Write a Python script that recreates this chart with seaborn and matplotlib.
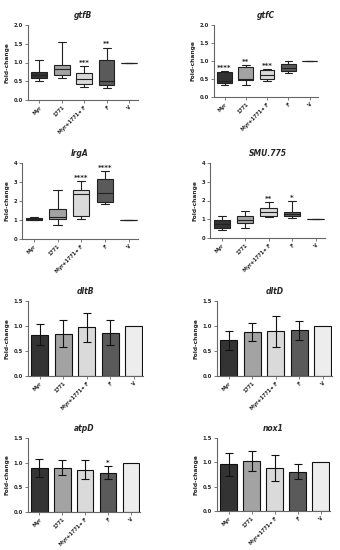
import matplotlib
matplotlib.use("Agg")
import matplotlib.pyplot as plt
import seaborn as sns
import pandas as pd

sns.set_style("white")
plt.rcParams['font.family'] = ['DejaVu Sans']

categories = ["Myr", "1771", "Myr+1771+ F", "F", "V"]
colors = ["#333333", "#a3a3a3", "#dadada", "#5a5a5a", "#ededed"]

# box-plot five-number summaries per group: [min, q1, median, q3, max]
gtfB = [[0.50, 0.60, 0.67, 0.74, 1.07],
        [0.60, 0.67, 0.82, 0.93, 1.55],
        [0.35, 0.42, 0.55, 0.73, 0.90],
        [0.32, 0.40, 0.50, 1.08, 1.40],
        [1.0, 1.0, 1.0, 1.0, 1.0]]
gtfB_sig = ["", "", "***", "**", ""]

gtfC = [[0.33, 0.38, 0.45, 0.70, 0.73],
        [0.33, 0.48, 0.50, 0.83, 0.90],
        [0.45, 0.50, 0.62, 0.75, 0.78],
        [0.68, 0.72, 0.80, 0.92, 1.00],
        [1.0, 1.0, 1.0, 1.0, 1.0]]
gtfC_sig = ["****", "**", "***", "", ""]

lrgA = [[0.98, 1.00, 1.05, 1.12, 1.18],
        [0.75, 1.05, 1.15, 1.58, 2.60],
        [1.05, 1.20, 2.35, 2.60, 3.05],
        [1.85, 1.97, 2.40, 3.18, 3.60],
        [1.0, 1.0, 1.0, 1.0, 1.0]]
lrgA_sig = ["", "", "****", "****", ""]

smu775 = [[0.45, 0.52, 0.75, 0.95, 1.20],
          [0.55, 0.80, 0.98, 1.20, 1.45],
          [1.10, 1.15, 1.40, 1.60, 1.90],
          [1.05, 1.15, 1.30, 1.40, 2.00],
          [1.0, 1.0, 1.0, 1.0, 1.0]]
smu775_sig = ["", "", "**", "*", ""]

# bar plots: mean and SD
dltB_mean = [0.83, 0.85, 0.98, 0.87, 1.00]
dltB_sd = [0.21, 0.27, 0.29, 0.25, 0.0]
dltB_sig = ["", "", "", "", ""]

dltD_mean = [0.72, 0.89, 0.90, 0.92, 1.00]
dltD_sd = [0.19, 0.18, 0.31, 0.19, 0.0]
dltD_sig = ["", "", "", "", ""]

atpD_mean = [0.89, 0.90, 0.86, 0.80, 1.00]
atpD_sd = [0.18, 0.15, 0.19, 0.14, 0.0]
atpD_sig = ["", "", "", "*", ""]

nox1_mean = [0.96, 1.03, 0.89, 0.81, 1.00]
nox1_sd = [0.24, 0.20, 0.27, 0.16, 0.0]
nox1_sig = ["", "", "", "", ""]

W, H = 340, 550
fig = plt.figure(figsize=(W / 100, H / 100), dpi=100)
fig.patch.set_facecolor("white")


def make_ax(l, t, r, b):
    return fig.add_axes([l / W, 1 - b / H, (r - l) / W, (b - t) / H])


def style(ax, title, ylim, yticks, fmt):
    ax.set_xlim(-0.5, 4.4)
    ax.set_ylim(*ylim)
    ax.set_yticks(yticks)
    ax.set_yticklabels([fmt.format(v) for v in yticks], fontsize=3.8, fontweight="bold")
    ax.set_xticks(range(len(categories)))
    ax.set_xticklabels(categories, rotation=45, ha="right", rotation_mode="anchor",
                       fontsize=3.5, fontweight="bold")
    ax.set_xlabel("")
    ax.set_ylabel("Fold-change", fontsize=4.2, fontweight="bold", labelpad=3)
    ax.set_title(title, fontsize=5.5, fontweight="bold", style="italic", pad=5)
    for s in ["top", "right"]:
        ax.spines[s].set_visible(False)
    for s in ["left", "bottom"]:
        ax.spines[s].set_color("#666666")
        ax.spines[s].set_linewidth(0.8)
    ax.tick_params(axis="both", length=2, width=0.6, color="#666666", pad=1.5)
    ax.tick_params(axis="x", bottom=True)
    ax.tick_params(axis="y", left=True)
    ax.set_facecolor("white")


def boxpanel(rect, data, sig, title, ylim, yticks, fmt, off):
    ax = make_ax(*rect)
    rows = []
    for c, vals in zip(categories, data):
        for v in vals:
            rows.append({"group": c, "value": v})
    df = pd.DataFrame(rows)
    sns.boxplot(data=df, x="group", y="value", hue="group", order=categories,
                hue_order=categories, palette=colors, whis=(0, 100), width=0.7,
                linewidth=0.8, linecolor="#222222", legend=False, ax=ax,
                showfliers=False, saturation=1)
    for i, s in enumerate(sig):
        if s:
            ax.text(i, max(data[i]) + off, s, ha="center", va="bottom",
                    fontsize=5, fontweight="bold")
    style(ax, title, ylim, yticks, fmt)


def barpanel(rect, means, sds, sig, title, off):
    ax = make_ax(*rect)
    sns.barplot(x=categories, y=means, hue=categories, order=categories,
                hue_order=categories, palette=colors, edgecolor="#111111",
                linewidth=0.8, width=0.72, legend=False, ax=ax, saturation=1)
    idx = [i for i, e in enumerate(sds) if e > 0]
    ax.errorbar(idx, [means[i] for i in idx], yerr=[sds[i] for i in idx],
                fmt="none", ecolor="#111111", elinewidth=0.8, capsize=3,
                capthick=0.8)
    for i, s in enumerate(sig):
        if s:
            ax.text(i, means[i] + sds[i] + off, s, ha="center", va="bottom",
                    fontsize=5, fontweight="bold")
    style(ax, title, (0, 1.5), [0.0, 0.5, 1.0, 1.5], "{:.1f}")


boxpanel((28, 25, 138, 100), gtfB, gtfB_sig, "gtfB", (0, 2.0),
         [0.0, 0.5, 1.0, 1.5, 2.0], "{:.1f}", 0.0)
boxpanel((214, 25, 318, 97), gtfC, gtfC_sig, "gtfC", (0, 2.0),
         [0.0, 0.5, 1.0, 1.5, 2.0], "{:.1f}", 0.0)
boxpanel((22, 163, 138, 239), lrgA, lrgA_sig, "lrgA", (0, 4),
         [0, 1, 2, 3, 4], "{:d}", 0.0)
boxpanel((210, 163, 325, 238), smu775, smu775_sig, "SMU.775", (0, 4),
         [0, 1, 2, 3, 4], "{:d}", 0.0)

barpanel((28, 301, 143, 376), dltB_mean, dltB_sd, dltB_sig, "dltB", 0.0)
barpanel((217, 301, 332, 376), dltD_mean, dltD_sd, dltD_sig, "dltD", 0.0)
barpanel((28, 438, 140, 512), atpD_mean, atpD_sd, atpD_sig, "atpD", 0.0)
barpanel((217, 438, 330, 511), nox1_mean, nox1_sd, nox1_sig, "nox1", 0.0)

fig.savefig("out.png", dpi=100, facecolor="white")
